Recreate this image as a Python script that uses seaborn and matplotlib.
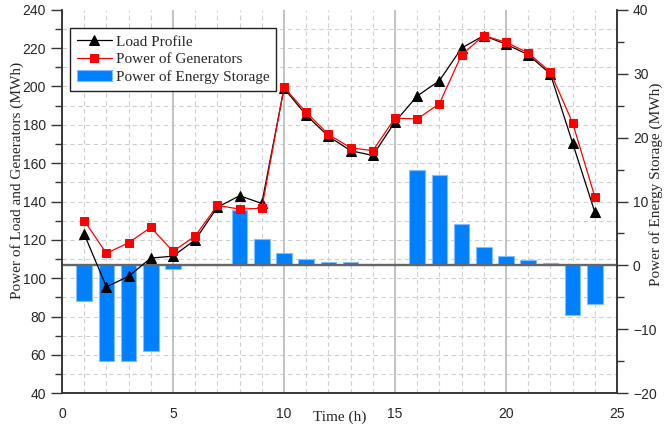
import numpy as np
import pandas as pd
import matplotlib
matplotlib.use('Agg')
import matplotlib.pyplot as plt
import seaborn as sns
from matplotlib.ticker import MultipleLocator
from matplotlib.transforms import blended_transform_factory
from matplotlib.patches import Patch

# dados
hours = list(range(1, 25))
load_profile = [123, 95.5, 101, 110.5, 111.5, 120, 137, 143, 139, 199, 185, 174,
                166.5, 164, 181.5, 195, 203, 220, 226.5, 222, 216.5, 206.5, 170.5, 134.5]
power_generators = [130, 113, 118.5, 126.5, 114, 122, 138, 136, 136.5, 199.5, 186.5, 175,
                    168, 166.5, 183.5, 183, 191, 216.5, 226.5, 223, 217.5, 207.5, 181, 142.5]
energy_storage = [-5.6, -14.9, -14.9, -13.4, -0.6, 0, 0, 8.7, 4.1, 1.9, 1.0, 0.6,
                  0.5, 0.3, 0.2, 15.0, 14.2, 6.5, 2.9, 1.5, 0.8, 0.4, -7.7, -6.0]

df = pd.DataFrame({'hour': hours, 'load': load_profile,
                   'gen': power_generators, 'storage': energy_storage})

sns.set_theme(style='white')
plt.rcParams['font.family'] = ['Liberation Sans', 'DejaVu Sans']
serif = ['Liberation Serif', 'DejaVu Serif']

fig = plt.figure(figsize=(6.64, 4.29), dpi=100)
ax = fig.add_axes([0.0934, 0.0832, 0.8358, 0.8942])
ax2 = ax.twinx()
ax.set_zorder(2)
ax2.set_zorder(1)
ax.patch.set_visible(False)

# barras (eixo direito)
sns.barplot(data=df, x='hour', y='storage', native_scale=True, width=0.7,
            color='#0080FF', saturation=1, edgecolor='#7FBFFF', linewidth=0.8,
            errorbar=None, ax=ax2, zorder=2)

# linhas (eixo esquerdo)
sns.lineplot(data=df, x='hour', y='load', color='black', lw=0.9, marker='^',
             markersize=6.5, markeredgecolor='black', ax=ax, label='Load Profile')
sns.lineplot(data=df, x='hour', y='gen', color='red', lw=0.9, marker='s',
             markersize=6, markeredgecolor='red', ax=ax, label='Power of Generators')

ax.set_xlim(0, 25)
ax.set_ylim(40, 240)
ax2.set_ylim(-20, 40)

# grade
trans = blended_transform_factory(ax2.transAxes, ax.transData)
for v in range(50, 240, 10):
    ax2.plot([0, 1], [v, v], transform=trans, ls=(0, (4, 3)), color='#CFCFCF', lw=0.8, zorder=0)
for h in range(1, 25):
    if h % 5 == 0:
        ax2.axvline(h, color='#BDBDBD', lw=1.3, zorder=0)
    else:
        ax2.axvline(h, ls=(0, (4, 3)), color='#CFCFCF', lw=0.8, zorder=0)
ax2.axhline(0, color='#666666', lw=1.7, zorder=3)

# eixos e ticks
for a in (ax, ax2):
    a.spines['top'].set_visible(False)
    for s in ('left', 'right', 'bottom'):
        a.spines[s].set_color('#333333')
        a.spines[s].set_linewidth(1.1)
    a.grid(False)

ax.xaxis.set_major_locator(MultipleLocator(5))
ax.xaxis.set_minor_locator(MultipleLocator(1))
ax.yaxis.set_major_locator(MultipleLocator(20))
ax.yaxis.set_minor_locator(MultipleLocator(10))
ax2.yaxis.set_major_locator(MultipleLocator(10))
ax2.yaxis.set_minor_locator(MultipleLocator(5))

ax.tick_params(axis='x', which='major', direction='out', length=6, width=1, color='#333333', labelsize=10, pad=4)
ax.tick_params(axis='x', which='minor', direction='out', length=4, width=1, color='#333333')
ax.tick_params(axis='y', which='major', direction='out', length=8, width=1, color='#333333', labelsize=10)
ax.tick_params(axis='y', which='minor', direction='out', length=5, width=1, color='#333333')
ax2.tick_params(axis='y', which='major', direction='out', length=8, width=1, color='#333333', labelsize=10)
ax2.tick_params(axis='y', which='minor', direction='out', length=5, width=1, color='#333333')
ax2.tick_params(axis='x', which='both', bottom=False, labelbottom=False)

ax.set_xlabel('Time (h)', family=serif, fontsize=11)
ax.xaxis.set_label_coords(0.5, -0.045)
ax.set_ylabel('Power of Load and Generators (MWh)', family=serif, fontsize=11)
ax.yaxis.set_label_coords(-0.068, 0.555)
ax2.set_ylabel('Power of Energy Storage (MWh)', family=serif, fontsize=11)
ax2.yaxis.set_label_coords(1.058, 0.545)

# legenda
h1, l1 = ax.get_legend_handles_labels()
bar_handle = Patch(facecolor='#0080FF', edgecolor='#7FBFFF', linewidth=0.8)
leg = ax.legend(h1 + [bar_handle], l1 + ['Power of Energy Storage'],
                loc='upper left', bbox_to_anchor=(0.0144, 0.952), borderaxespad=0,
                fancybox=False, framealpha=1, edgecolor='#222222',
                prop={'family': serif, 'size': 11}, handlelength=2.3,
                handletextpad=0.25, borderpad=0.45, labelspacing=0.25)
leg.get_frame().set_linewidth(1.0)

fig.savefig('out.png', dpi=100)
